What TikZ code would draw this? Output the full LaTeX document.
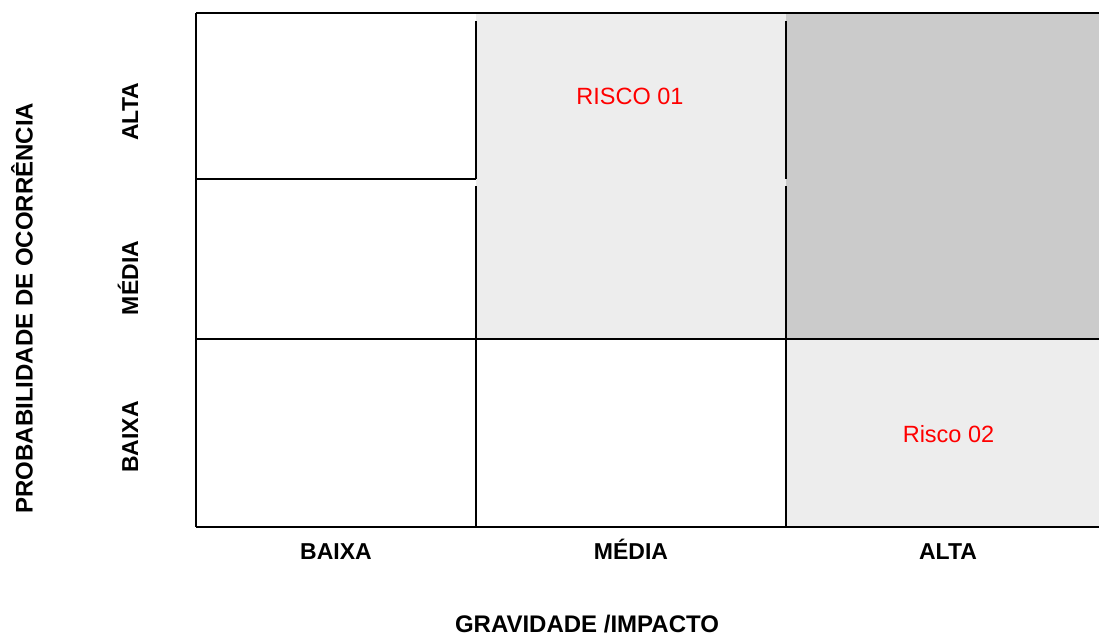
\documentclass[tikz,border=0pt]{standalone}
\usepackage{fontspec}
\setmainfont{Liberation Sans}
\definecolor{lightcell}{HTML}{EDEDED}
\definecolor{darkcell}{HTML}{CBCBCB}
\definecolor{riskred}{HTML}{FF0000}
\tikzset{
  axislabel/.style={font=\fontsize{24}{27}\selectfont\bfseries, inner sep=0pt, anchor=base},
  valuelabel/.style={font=\fontsize{23}{26}\selectfont\bfseries, inner sep=0pt, anchor=base},
  risklabel/.style={font=\fontsize{23.5}{26}\selectfont, text=riskred, inner sep=0pt, anchor=base},
  thinline/.style={line width=1.1pt, black},
  thickline/.style={line width=1.7pt, black}
}
\begin{document}
\begin{tikzpicture}[x=1pt,y=-1pt]
\useasboundingbox (0,0) rectangle (1099,635);
% cell fills
\fill[lightcell] (476,14) rectangle (786,339);
\fill[darkcell] (786,14) rectangle (1099,339);
\fill[lightcell] (786,339) rectangle (1099,527);
% grid lines
\draw[thinline] (196,13) -- (1099,13);
\draw[thinline] (196,13) -- (196,339);
\draw[thinline] (196,179) -- (476,179);
\draw[thinline] (476,21) -- (476,179);
\draw[thinline] (476,186) -- (476,339);
\draw[thinline] (786,21) -- (786,179);
\draw[thinline] (786,186) -- (786,339);
\draw[thinline] (786,339) -- (1099,339);
\draw[thickline] (196,339) -- (786,339);
\draw[thickline] (196,339) -- (196,527);
\draw[thickline] (476,339) -- (476,527);
\draw[thickline] (786,339) -- (786,527);
\draw[thickline] (196,527) -- (1099,527);
% risk labels
\node[risklabel] (r1) at (630,104) {RISCO 01};
\node[risklabel] (r2) at (948.5,442) {Risco 02};
% y axis
\node[axislabel, rotate=90] (yaxis) at (32.5,308) {PROBABILIDADE DE OCORRÊNCIA};
\node[valuelabel, rotate=90] (yalta) at (138.2,112) {ALTA};
\node[valuelabel, rotate=90] (ymedia) at (138.2,278) {MÉDIA};
\node[valuelabel, rotate=90] (ybaixa) at (138.2,437) {BAIXA};
% x axis
\node[valuelabel] (xbaixa) at (336,559) {BAIXA};
\node[valuelabel] (xmedia) at (631,559) {MÉDIA};
\node[valuelabel] (xalta) at (948,559) {ALTA};
\node[axislabel] (xaxis) at (587,632) {GRAVIDADE /IMPACTO};
\end{tikzpicture}
\end{document}
